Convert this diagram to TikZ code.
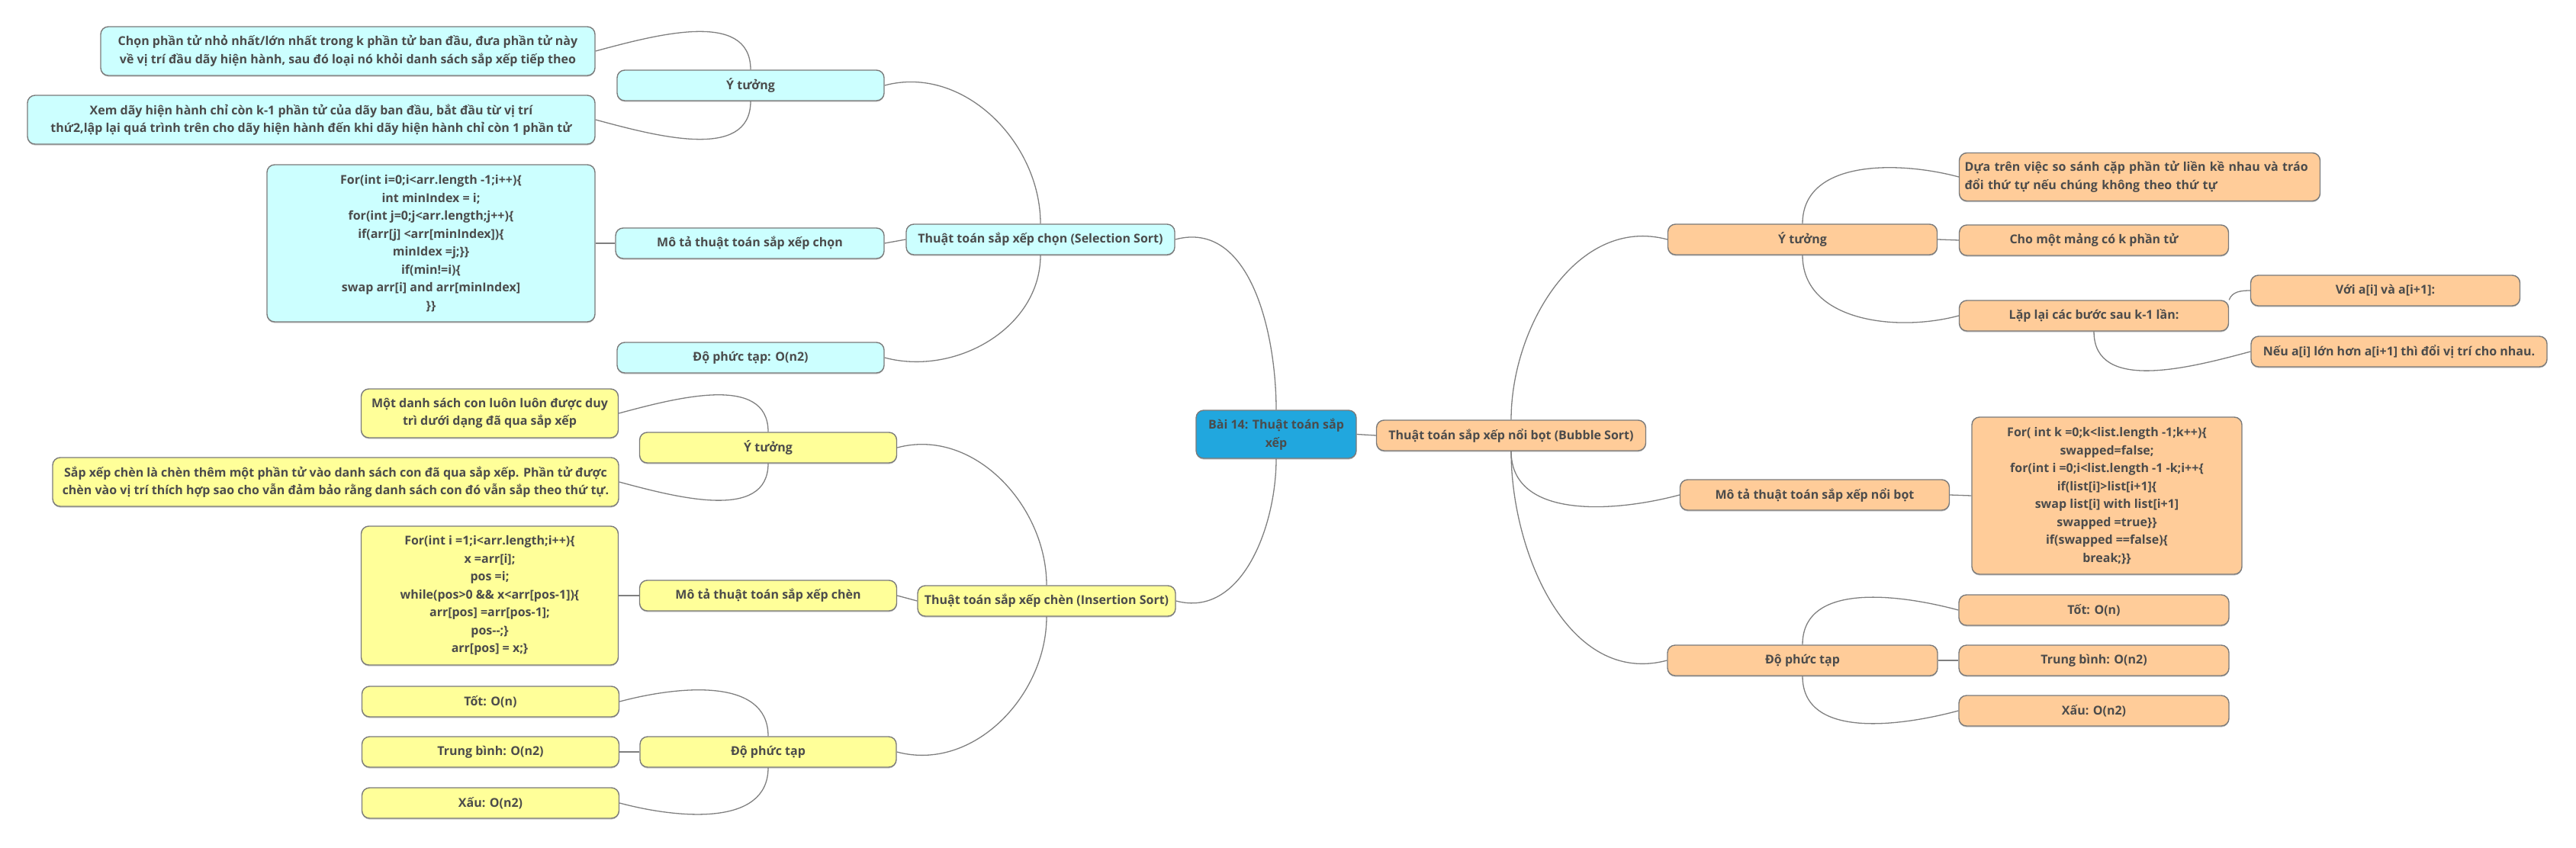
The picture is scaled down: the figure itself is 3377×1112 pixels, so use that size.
\documentclass[tikz,border=0pt]{standalone}
\usepackage{fontspec}
\setmainfont{Open Sans}
\usetikzlibrary{backgrounds,shadows}
\definecolor{cyanbox}{HTML}{CCFFFF}
\definecolor{yelbox}{HTML}{FFFF99}
\definecolor{orbox}{HTML}{FFCC99}
\definecolor{bluebox}{HTML}{21A7DE}
\definecolor{bordc}{HTML}{7A7A7A}
\definecolor{connc}{HTML}{7F7F7F}
\definecolor{txtc}{HTML}{4B4B4B}
\begin{document}
\begin{tikzpicture}[x=0.5pt,y=-0.5pt,
  box/.style={draw=bordc, line width=0.7pt, rounded corners=5pt, inner sep=0pt,
    align=center, font=\fontsize{8}{11.75}\selectfont\bfseries, text=txtc,
    drop shadow={shadow xshift=0pt, shadow yshift=-0.8pt, fill=black, opacity=0.22}},
  sz/.style 2 args={minimum width=#1*0.5pt, minimum height=#2*0.5pt},
  cyb/.style={box, fill=cyanbox},
  yeb/.style={box, fill=yelbox},
  orb/.style={box, fill=orbox},
  blb/.style={box, fill=bluebox},
  conn/.style={draw=connc, line width=0.65pt}]
\useasboundingbox (0,0) rectangle (3377,1112);

% central
\node[blb, sz={210}{63}] (c) at (1673,569.5) {Bài 14: Thuật toán sắp\\xếp};

% Selection sort
\node[cyb, sz={352}{40}] (smain) at (1364,314) {Thuật toán sắp xếp chọn (Selection Sort)};
\node[cyb, sz={350}{40}] (sidea) at (984,112) {Ý tưởng};
\node[cyb, sz={648}{64}] (sidea1) at (456,67) {Chọn phần tử nhỏ nhất/lớn nhất trong k phần tử ban đầu, đưa phần tử này\\về vị trí đầu dãy hiện hành, sau đó loại nó khỏi danh sách sắp xếp tiếp theo};
\node[cyb, sz={744}{64}] (sidea2) at (408,157) {Xem dãy hiện hành chỉ còn k-1 phần tử của dãy ban đầu, bắt đầu từ vị trí\\thứ2,lập lại quá trình trên cho dãy hiện hành đến khi dãy hiện hành chỉ còn 1 phần tử};
\node[cyb, sz={352}{40}] (sdesc) at (983,319) {Mô tả thuật toán sắp xếp chọn};
\node[cyb, sz={430}{206}] (scode) at (565,319) {For(int i=0;i<arr.length -1;i++)\{\\int minIndex = i;\\for(int j=0;j<arr.length;j++)\{\\if(arr[j] <arr[minIndex])\{\\minIdex =j;\}\}\\if(min!=i)\{\\swap arr[i] and arr[minIndex]\\\}\}};
\node[cyb, sz={350}{40}] (scplx) at (984,469) {Độ phức tạp: O(n2)};

% Insertion sort
\node[yeb, sz={338}{40}] (imain) at (1372,788) {Thuật toán sắp xếp chèn (Insertion Sort)};
\node[yeb, sz={337}{40}] (iidea) at (1007,587) {Ý tưởng};
\node[yeb, sz={337}{64}] (iidea1) at (642,542) {Một danh sách con luôn luôn được duy\\trì dưới dạng đã qua sắp xếp};
\node[yeb, sz={742}{64}] (iidea2) at (440,632) {Sắp xếp chèn là chèn thêm một phần tử vào danh sách con đã qua sắp xếp. Phần tử được\\chèn vào vị trí thích hợp sao cho vẫn đảm bảo rằng danh sách con đó vẫn sắp theo thứ tự.};
\node[yeb, sz={337}{40}] (idesc) at (1007,781) {Mô tả thuật toán sắp xếp chèn};
\node[yeb, sz={337}{182}] (icode) at (642,781) {For(int i =1;i<arr.length;i++)\{\\x =arr[i];\\pos =i;\\while(pos>0 \&\& x<arr[pos-1])\{\\arr[pos] =arr[pos-1];\\pos-{}-;\}\\arr[pos] = x;\}};
\node[yeb, sz={336}{40}] (icplx) at (1007,986) {Độ phức tạp};
\node[yeb, sz={337}{40}] (igood) at (643,920) {Tốt: O(n)};
\node[yeb, sz={337}{40}] (iavg) at (643,986) {Trung bình: O(n2)};
\node[yeb, sz={337}{40}] (ibad) at (643,1053) {Xấu: O(n2)};

% Bubble sort
\node[orb, sz={353}{40}] (bmain) at (1981,571) {Thuật toán sắp xếp nổi bọt (Bubble Sort)};
\node[orb, sz={353}{40}] (bidea) at (2363,314) {Ý tưởng};
\node[orb, sz={473}{63}, text width=229.5pt, align=left, inner xsep=3.5pt] (bidea1) at (2805,232) {Dựa trên việc so sánh cặp phần tử liền kề nhau và tráo\\đổi thứ tự nếu chúng không theo thứ tự};
\node[orb, sz={353}{40}] (bidea2) at (2745,315) {Cho một mảng có k phần tử};
\node[orb, sz={353}{40}] (bidea3) at (2745,414) {Lặp lại các bước sau k-1 lần:};
\node[orb, sz={353}{40}] (bwith) at (3127,381) {Với a[i] và a[i+1]:};
\node[orb, sz={388}{40}] (bif) at (3145,461) {Nếu a[i] lớn hơn a[i+1] thì đổi vị trí cho nhau.};
\node[orb, sz={353}{40}] (bdesc) at (2379,649) {Mô tả thuật toán sắp xếp nổi bọt};
\node[orb, sz={354}{206}] (bcode) at (2762,650) {For( int k =0;k<list.length -1;k++)\{\\swapped=false;\\for(int i =0;i<list.length -1 -k;i++\{\\if(list[i]>list[i+1]\{\\swap list[i] with list[i+1]\\swapped =true\}\}\\if(swapped ==false)\{\\break;\}\}};
\node[orb, sz={354}{40}] (bcplx) at (2363,866) {Độ phức tạp};
\node[orb, sz={354}{40}] (bgood) at (2745,800) {Tốt: O(n)};
\node[orb, sz={354}{40}] (bavg) at (2745,866) {Trung bình: O(n2)};
\node[orb, sz={354}{40}] (bbad) at (2745,932) {Xấu: O(n2)};

\begin{scope}[on background layer]
\draw[conn] (c.north) to[out=90,in=15] (smain.east);
\draw[conn] (c.south) to[out=-90,in=-15] (imain.east);
\draw[conn] (c.east) -- (bmain.west);
\draw[conn] (smain.north) to[out=90,in=15] (sidea.east);
\draw[conn] (smain.west) -- (sdesc.east);
\draw[conn] (smain.south) to[out=-90,in=-15] (scplx.east);
\draw[conn] (sidea.north) to[out=90,in=15] (sidea1.east);
\draw[conn] (sidea.south) to[out=-90,in=-15] (sidea2.east);
\draw[conn] (sdesc.west) -- (scode.east);
\draw[conn] (imain.north) to[out=90,in=15] (iidea.east);
\draw[conn] (imain.west) -- (idesc.east);
\draw[conn] (imain.south) to[out=-90,in=-15] (icplx.east);
\draw[conn] (iidea.north) to[out=90,in=15] (iidea1.east);
\draw[conn] (iidea.south) to[out=-90,in=-15] (iidea2.east);
\draw[conn] (idesc.west) -- (icode.east);
\draw[conn] (icplx.north) to[out=90,in=15] (igood.east);
\draw[conn] (icplx.west) -- (iavg.east);
\draw[conn] (icplx.south) to[out=-90,in=-15] (ibad.east);
\draw[conn] (bmain.north) to[out=90,in=165] (bidea.west);
\draw[conn] (bmain.south) to[out=-90,in=-165] (bdesc.west);
\draw[conn] (bmain.south) to[out=-90,in=-165] (bcplx.west);
\draw[conn] (bidea.north) to[out=90,in=165] (bidea1.west);
\draw[conn] (bidea.east) -- (bidea2.west);
\draw[conn] (bidea.south) to[out=-90,in=-165] (bidea3.west);
\draw[conn] (bidea3.north east) to[out=70,in=180] (bwith.west);
\draw[conn] (bidea3.south) to[out=-90,in=-165] (bif.west);
\draw[conn] (bdesc.east) -- (bcode.west);
\draw[conn] (bcplx.north) to[out=90,in=165] (bgood.west);
\draw[conn] (bcplx.east) -- (bavg.west);
\draw[conn] (bcplx.south) to[out=-90,in=-165] (bbad.west);
\end{scope}
\end{tikzpicture}
\end{document}
